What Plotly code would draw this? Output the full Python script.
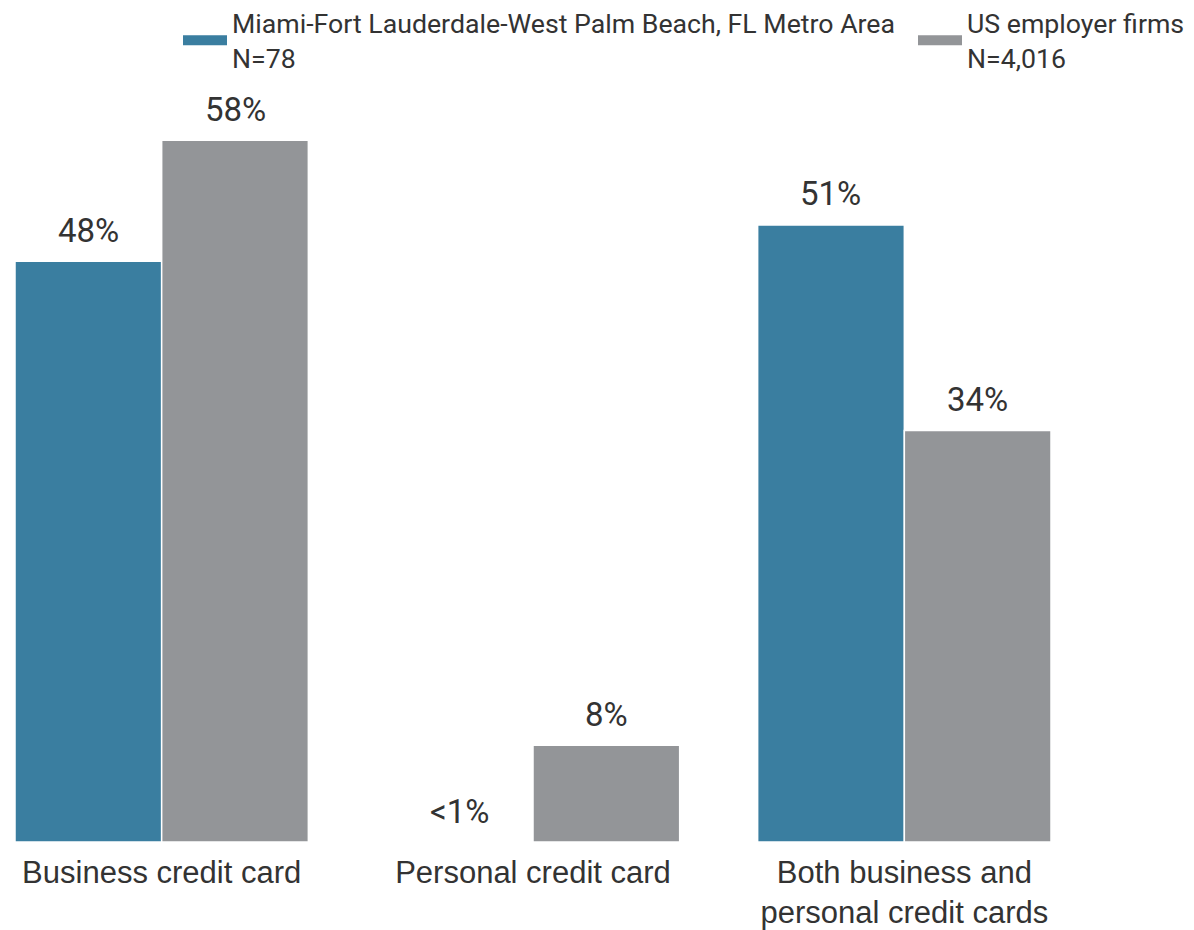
import plotly.graph_objects as go

categories = ["Business credit card", "Personal credit card", "Both business and<br>personal credit cards"]
series_names = ["Miami-Fort Lauderdale-West Palm Beach, FL Metro Area<br>N=78", "US employer firms<br>N=4,016"]
miami_values = [48, 0, 51]
miami_labels = ["48%", "<1%", "51%"]
us_values = [58, 8, 34]
us_labels = ["58%", "8%", "34%"]

BLUE = "#3A7EA0"
GRAY = "#939598"
TEXT = "#333333"

W, H = 1194, 930
BARGAP = 0.21
X_RANGE = [-0.5 + BARGAP / 2, 2.5 - BARGAP / 2]
M_L, M_R, M_T, M_B = 7, 151, 108, 96
PLOT_W = W - M_L - M_R
PLOT_H = H - M_T - M_B
unit_px = PLOT_W / (X_RANGE[1] - X_RANGE[0])
bar_px = unit_px * (1 - BARGAP) / 2

# legend item left edges (figure pixels)
LEGEND_X = [170, 905]
LEGEND_IDS = ["legend", "legend2"]

fig = go.Figure()
series = [
    (series_names[0], miami_values, miami_labels, BLUE, -bar_px / 2),
    (series_names[1], us_values, us_labels, GRAY, bar_px / 2),
]
for i, (name, vals, labels, color, shift) in enumerate(series):
    fig.add_trace(go.Bar(
        x=categories, y=vals, name=name,
        marker=dict(color=color, line=dict(color="white", width=1.5)),
        cliponaxis=False, showlegend=False, hoverinfo="skip",
    ))
    # legend swatch trace
    fig.add_trace(go.Scatter(
        x=[None], y=[None], mode="lines", name=name,
        line=dict(color=color, width=11), showlegend=True,
        legend=LEGEND_IDS[i],
    ))
    for cat, v, lab in zip(categories, vals, labels):
        fig.add_annotation(
            x=cat, y=v, xref="x", yref="y", text=lab, showarrow=False,
            xshift=shift, yshift=31, yanchor="middle",
            font=dict(family="Roboto", size=33, color=TEXT),
        )

legend_style = dict(
    orientation="h", xref="paper", yref="paper",
    y=1 + (M_T + 9) / PLOT_H, xanchor="left", yanchor="top",
    font=dict(family="Roboto", size=26.7, color=TEXT),
    itemwidth=44, itemclick=False, valign="middle",
    bgcolor="rgba(0,0,0,0)",
)

fig.update_layout(
    width=W, height=H,
    margin=dict(l=M_L, r=M_R, t=M_T, b=M_B, autoexpand=False),
    paper_bgcolor="white", plot_bgcolor="white",
    barmode="group", bargap=BARGAP, bargroupgap=0,
    showlegend=True,
    legend=dict(legend_style, x=(LEGEND_X[0] - M_L) / PLOT_W),
    legend2=dict(legend_style, x=(LEGEND_X[1] - M_L) / PLOT_W),
    xaxis=dict(
        type="category", range=X_RANGE, showgrid=False, showline=False,
        zeroline=False, ticks="", ticklabelstandoff=9,
        tickfont=dict(family="Liberation Sans, Arial", size=31, color=TEXT),
    ),
    yaxis=dict(range=[0, 60], visible=False, showgrid=False, zeroline=False),
)

fig.write_html("out.html")
